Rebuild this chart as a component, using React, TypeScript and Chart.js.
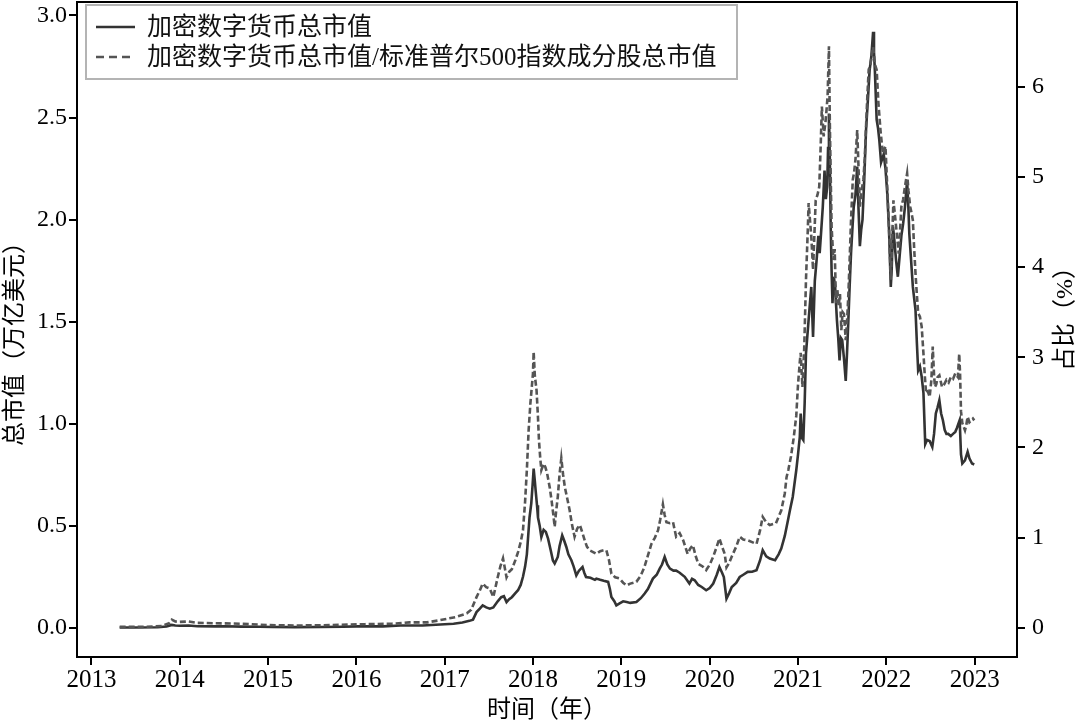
import React, { useEffect, useRef } from "react";
import { Chart, registerables } from "chart.js";

Chart.register(...registerables);

// ---- data (fractional years) ----
const capYears = [
  2013.32, 2013.5, 2013.75, 2013.85, 2013.91, 2013.95, 2014.0, 2014.1, 2014.2, 2014.4, 2014.5, 2014.7, 2014.9,
  2015.05, 2015.3, 2015.6, 2015.85, 2016.0, 2016.3, 2016.5, 2016.75, 2016.95, 2017.1, 2017.2, 2017.28,
  2017.32, 2017.36, 2017.4, 2017.43, 2017.47, 2017.51, 2017.55, 2017.6, 2017.64, 2017.67, 2017.7, 2017.73,
  2017.76, 2017.8, 2017.83, 2017.86, 2017.886, 2017.91, 2017.93, 2017.96, 2017.98, 2017.995, 2018.007,
  2018.02, 2018.03, 2018.045, 2018.056, 2018.075, 2018.094, 2018.12, 2018.145, 2018.17, 2018.2, 2018.225,
  2018.245, 2018.28, 2018.3, 2018.33, 2018.35, 2018.377, 2018.4, 2018.434, 2018.46, 2018.49, 2018.52,
  2018.56, 2018.58, 2018.6, 2018.65, 2018.7, 2018.717, 2018.76, 2018.8, 2018.85, 2018.87, 2018.887, 2018.92,
  2018.943, 2018.98, 2019.02, 2019.06, 2019.1, 2019.17, 2019.22, 2019.264, 2019.3, 2019.357, 2019.4,
  2019.434, 2019.46, 2019.49, 2019.52, 2019.55, 2019.59, 2019.62, 2019.66, 2019.717, 2019.77, 2019.8,
  2019.83, 2019.87, 2019.91, 2019.96, 2020.0, 2020.04, 2020.08, 2020.11, 2020.14, 2020.16, 2020.19, 2020.22,
  2020.25, 2020.3, 2020.34, 2020.38, 2020.43, 2020.48, 2020.53, 2020.57, 2020.6, 2020.64, 2020.68, 2020.74,
  2020.78, 2020.81, 2020.85, 2020.886, 2020.91, 2020.94, 2020.98, 2021.0, 2021.02, 2021.03, 2021.045,
  2021.06, 2021.075, 2021.09, 2021.12, 2021.15, 2021.17, 2021.19, 2021.21, 2021.23, 2021.245, 2021.26,
  2021.28, 2021.3, 2021.315, 2021.33, 2021.34, 2021.35, 2021.36, 2021.37, 2021.38, 2021.39, 2021.405,
  2021.42, 2021.44, 2021.455, 2021.47, 2021.485, 2021.5, 2021.52, 2021.54, 2021.555, 2021.57, 2021.585,
  2021.6, 2021.615, 2021.63, 2021.65, 2021.67, 2021.685, 2021.7, 2021.715, 2021.73, 2021.75, 2021.77,
  2021.79, 2021.81, 2021.83, 2021.85, 2021.86, 2021.87, 2021.89, 2021.905, 2021.92, 2021.94, 2021.97,
  2021.99, 2022.01, 2022.03, 2022.05, 2022.06, 2022.075, 2022.09, 2022.11, 2022.13, 2022.15, 2022.17,
  2022.19, 2022.21, 2022.235, 2022.25, 2022.26, 2022.28, 2022.3, 2022.33, 2022.345, 2022.36, 2022.38,
  2022.4, 2022.42, 2022.44, 2022.46, 2022.49, 2022.52, 2022.54, 2022.56, 2022.58, 2022.6, 2022.62, 2022.64,
  2022.66, 2022.68, 2022.7, 2022.73, 2022.755, 2022.78, 2022.8, 2022.83, 2022.845, 2022.86, 2022.89,
  2022.92, 2022.94, 2022.97, 2022.995,
];
const capValues = [
  0.0015, 0.0012, 0.0025, 0.006, 0.014, 0.011, 0.01, 0.011, 0.008, 0.007, 0.008, 0.006, 0.005,
  0.004, 0.0035, 0.004, 0.005, 0.007, 0.007, 0.011, 0.011, 0.016, 0.02, 0.026, 0.034,
  0.04, 0.077, 0.095, 0.11, 0.1, 0.094, 0.1, 0.13, 0.15, 0.155, 0.126, 0.14,
  0.15, 0.17, 0.184, 0.21, 0.25, 0.3, 0.36, 0.54, 0.61, 0.7, 0.78,
  0.72, 0.67, 0.6, 0.54, 0.5, 0.445, 0.48, 0.47, 0.437, 0.38, 0.33,
  0.315, 0.347, 0.4, 0.453, 0.43, 0.396, 0.36, 0.331, 0.3, 0.257, 0.28,
  0.298, 0.27, 0.249, 0.245, 0.235, 0.241, 0.235, 0.23, 0.225, 0.19, 0.151, 0.13,
  0.11, 0.12, 0.13, 0.126, 0.122, 0.126, 0.145, 0.168, 0.19, 0.241, 0.26,
  0.29, 0.31, 0.347, 0.31, 0.29, 0.28, 0.28, 0.27, 0.25, 0.217, 0.24,
  0.233, 0.21, 0.2, 0.184, 0.195, 0.217, 0.26, 0.298, 0.27, 0.249, 0.143, 0.17,
  0.2, 0.22, 0.249, 0.26, 0.274, 0.275, 0.282, 0.33, 0.38, 0.35, 0.339, 0.331,
  0.36, 0.388, 0.45, 0.527, 0.58, 0.641, 0.772, 0.85, 0.935, 1.05, 0.93,
  0.92, 1.1, 1.345, 1.51, 1.67, 1.425, 1.7, 1.8, 1.92, 1.835, 1.93,
  2.06, 2.24, 2.1, 2.16, 2.35, 2.52, 2.3, 1.965, 1.75, 1.59, 1.72,
  1.67, 1.51, 1.42, 1.31, 1.42, 1.41, 1.32, 1.21, 1.35, 1.51, 1.68,
  1.835, 1.95, 2.06, 2.12, 2.26, 2.05, 1.87, 1.95, 2.0, 2.2, 2.44,
  2.58, 2.73, 2.8, 2.92, 2.82, 2.73, 2.49, 2.45, 2.39, 2.28, 2.32,
  2.25, 2.13, 1.95, 1.67, 1.75, 1.965, 1.9, 1.8, 1.72, 1.82, 1.92,
  1.98, 2.06, 2.19, 2.05, 1.93, 1.8, 1.67, 1.556, 1.4, 1.26, 1.28,
  1.23, 1.15, 0.9, 0.92, 0.915, 0.886, 0.95, 1.05, 1.08, 1.115, 1.05, 1.017,
  0.97, 0.95, 0.95, 0.94, 0.95, 0.96, 0.98, 1.017, 0.85, 0.805, 0.82,
  0.862, 0.83, 0.805, 0.8,
];

const ratioYears = [
  2013.32, 2013.6, 2013.8, 2013.88, 2013.91, 2013.95, 2014.0, 2014.1, 2014.2, 2014.4, 2014.6, 2014.8,
  2015.0, 2015.3, 2015.6, 2015.9, 2016.1, 2016.4, 2016.6, 2016.8, 2016.95, 2017.13, 2017.25, 2017.3,
  2017.36, 2017.4, 2017.43, 2017.47, 2017.51, 2017.55, 2017.6, 2017.63, 2017.66, 2017.7, 2017.73, 2017.76,
  2017.8, 2017.83, 2017.86, 2017.886, 2017.91, 2017.93, 2017.95, 2017.97, 2017.999, 2018.007, 2018.02,
  2018.04, 2018.055, 2018.067, 2018.08, 2018.094, 2018.12, 2018.14, 2018.16, 2018.19, 2018.21, 2018.23,
  2018.245, 2018.26, 2018.28, 2018.3, 2018.32, 2018.34, 2018.36, 2018.39, 2018.415, 2018.44, 2018.47,
  2018.5, 2018.53, 2018.56, 2018.585, 2018.61, 2018.64, 2018.68, 2018.717, 2018.76, 2018.8, 2018.83,
  2018.86, 2018.887, 2018.93, 2018.98, 2019.02, 2019.06, 2019.1, 2019.17, 2019.22, 2019.26, 2019.3,
  2019.34, 2019.38, 2019.415, 2019.44, 2019.47, 2019.49, 2019.51, 2019.55, 2019.585, 2019.62, 2019.66,
  2019.7, 2019.75, 2019.78, 2019.81, 2019.84, 2019.87, 2019.92, 2019.96, 2020.0, 2020.04, 2020.08,
  2020.11, 2020.14, 2020.17, 2020.19, 2020.22, 2020.25, 2020.3, 2020.34, 2020.38, 2020.43, 2020.48,
  2020.53, 2020.57, 2020.6, 2020.64, 2020.68, 2020.75, 2020.81, 2020.85, 2020.87, 2020.89, 2020.92,
  2020.95, 2020.98, 2021.0, 2021.02, 2021.03, 2021.05, 2021.07, 2021.09, 2021.11, 2021.12, 2021.15,
  2021.17, 2021.2, 2021.22, 2021.24, 2021.255, 2021.27, 2021.29, 2021.31, 2021.32, 2021.335, 2021.35,
  2021.36, 2021.37, 2021.38, 2021.4, 2021.415, 2021.43, 2021.445, 2021.46, 2021.475, 2021.49, 2021.505,
  2021.52, 2021.54, 2021.555, 2021.57, 2021.585, 2021.6, 2021.62, 2021.635, 2021.65, 2021.67, 2021.685,
  2021.7, 2021.72, 2021.74, 2021.755, 2021.77, 2021.785, 2021.8, 2021.82, 2021.835, 2021.85, 2021.87,
  2021.89, 2021.91, 2021.935, 2021.96, 2021.99, 2022.005, 2022.02, 2022.035, 2022.05, 2022.065, 2022.08,
  2022.095, 2022.11, 2022.125, 2022.14, 2022.155, 2022.17, 2022.19, 2022.21, 2022.235, 2022.25, 2022.27,
  2022.285, 2022.3, 2022.315, 2022.33, 2022.345, 2022.36, 2022.38, 2022.4, 2022.42, 2022.435, 2022.45,
  2022.47, 2022.49, 2022.51, 2022.525, 2022.54, 2022.55, 2022.565, 2022.58, 2022.6, 2022.63, 2022.655,
  2022.68, 2022.705, 2022.73, 2022.755, 2022.78, 2022.81, 2022.825, 2022.835, 2022.845, 2022.86, 2022.89,
  2022.905, 2022.92, 2022.94, 2022.96, 2022.98, 2022.995,
];
const ratioValues = [
  0.01, 0.01, 0.02, 0.05, 0.09, 0.07, 0.065, 0.07, 0.055, 0.05, 0.048, 0.04,
  0.03, 0.025, 0.028, 0.035, 0.04, 0.045, 0.06, 0.06, 0.085, 0.12, 0.16, 0.2,
  0.34, 0.42, 0.49, 0.45, 0.435, 0.34, 0.56, 0.68, 0.77, 0.56, 0.62, 0.65,
  0.75, 0.84, 0.95, 1.08, 1.4, 1.75, 2.19, 2.49, 2.82, 3.06, 2.8,
  2.63, 2.35, 2.08, 1.9, 1.75, 1.82, 1.78, 1.71, 1.55, 1.41, 1.25,
  1.12, 1.28, 1.45, 1.7, 1.88, 1.7, 1.56, 1.42, 1.3, 1.15, 1.01,
  1.1, 1.14, 1.05, 0.97, 0.9, 0.86, 0.84, 0.82, 0.85, 0.86, 0.86,
  0.75, 0.6, 0.56, 0.546, 0.5, 0.47, 0.49, 0.51, 0.58, 0.67, 0.8,
  0.93, 1.0, 1.08, 1.2, 1.37, 1.25, 1.17, 1.16, 1.17, 1.01, 1.05,
  0.97, 0.82, 0.88, 0.915, 0.8, 0.71, 0.68, 0.64, 0.7, 0.79, 0.9,
  0.99, 0.9, 0.82, 0.67, 0.72, 0.79, 0.9, 1.01, 0.98, 0.97, 0.95,
  0.93, 1.08, 1.23, 1.17, 1.14, 1.16, 1.3, 1.49, 1.67, 1.75, 1.9,
  2.1, 2.35, 2.7, 2.95, 3.05, 2.67, 3.1, 3.86, 4.4, 4.71, 4.34,
  3.97, 4.74, 4.8, 4.89, 5.3, 5.78, 5.45, 5.6, 5.71, 5.9, 6.45,
  5.6, 5.0, 4.45, 4.08, 4.2, 3.6, 3.75, 3.57, 3.7, 3.3, 3.5,
  3.48, 3.19, 3.4, 3.7, 4.1, 4.52, 4.97, 5.05, 5.19, 5.52, 5.1,
  4.67, 4.85, 4.97, 5.2, 5.56, 5.9, 6.19, 6.25, 6.35, 6.44, 6.25,
  6.19, 5.82, 5.5, 5.26, 5.34, 5.0, 4.67, 4.3, 3.86, 4.3, 4.74,
  4.6, 4.45, 4.3, 4.15, 4.4, 4.67, 4.75, 4.89, 5.04, 4.85, 4.67,
  4.6, 4.52, 4.2, 3.93, 3.7, 3.49, 3.45, 3.34, 3.04, 2.8, 2.6,
  2.62, 2.56, 2.75, 3.12, 2.8, 2.67, 2.7, 2.78, 2.8, 2.67, 2.7,
  2.75, 2.72, 2.78, 2.76, 2.82, 2.78, 3.04, 2.8, 2.4, 2.27, 2.19,
  2.25, 2.34, 2.28, 2.3, 2.32, 2.3,
];

const yearTicks = [2013, 2014, 2015, 2016, 2017, 2018, 2019, 2020, 2021, 2022, 2023];
const capTicks = [0, 0.5, 1.0, 1.5, 2.0, 2.5, 3.0];
const ratioTicks = [0, 1, 2, 3, 4, 5, 6];

const seriesLabels = ["加密数字货币总市值", "加密数字货币总市值/标准普尔500指数成分股总市值"];
const xTitle = "时间（年）";
const leftTitle = "总市值（万亿美元）";
const rightTitle = "占比（%）";

const FONT_FAMILY = '"Liberation Serif", "Noto Sans CJK SC", serif';
const SOLID_COLOR = "#333333";
const DASH_COLOR = "#555555";

const decorPlugin = {
  id: "decor",
  afterDraw(chart: any) {
    const { ctx, chartArea } = chart;
    const { left, right, top } = chartArea;
    ctx.save();
    // top spine
    ctx.strokeStyle = "#000";
    ctx.lineWidth = 2;
    ctx.beginPath();
    ctx.moveTo(left - 1, top);
    ctx.lineTo(right + 1, top);
    ctx.stroke();

    // axis titles
    ctx.fillStyle = "#000";
    ctx.font = `24px ${FONT_FAMILY}`;
    ctx.textAlign = "center";
    ctx.textBaseline = "middle";
    ctx.fillText(xTitle, (left + right) / 2, 711);

    ctx.save();
    ctx.translate(16, 338);
    ctx.rotate(-Math.PI / 2);
    ctx.fillText(leftTitle, 0, 0);
    ctx.restore();

    ctx.save();
    ctx.translate(1066, 313);
    ctx.rotate(-Math.PI / 2);
    ctx.fillText(rightTitle, 0, 0);
    ctx.restore();

    // legend
    const bx = left + 9;
    const by = top + 3;
    const bw = 651;
    const bh = 74;
    ctx.fillStyle = "#fff";
    ctx.fillRect(bx, by, bw, bh);
    ctx.strokeStyle = "#b4b4b4";
    ctx.lineWidth = 2;
    ctx.strokeRect(bx, by, bw, bh);

    const rows = [top + 25, top + 55];
    const styles = [
      { color: SOLID_COLOR, dash: [] as number[] },
      { color: DASH_COLOR, dash: [8, 5] },
    ];
    rows.forEach((ry, i) => {
      ctx.strokeStyle = styles[i].color;
      ctx.lineWidth = 2.4;
      ctx.setLineDash(styles[i].dash);
      ctx.beginPath();
      ctx.moveTo(bx + 10, ry);
      ctx.lineTo(bx + 49, ry);
      ctx.stroke();
      ctx.setLineDash([]);
      ctx.fillStyle = "#111";
      ctx.font = `25px ${FONT_FAMILY}`;
      ctx.textAlign = "left";
      ctx.textBaseline = "middle";
      ctx.fillText(seriesLabels[i], bx + 61, ry + 1);
    });
    ctx.restore();
  },
};

export default function App() {
  const canvasRef = useRef<HTMLCanvasElement | null>(null);

  useEffect(() => {
    document.body.style.margin = "0";
    const canvas = canvasRef.current;
    if (!canvas) return;

    const capData = capYears.map((x, i) => ({ x, y: capValues[i] }));
    const ratioData = ratioYears.map((x, i) => ({ x, y: ratioValues[i] }));

    const tickFont = { family: FONT_FAMILY, size: 24 };
    const tickGrid = {
      display: true,
      drawOnChartArea: false,
      drawTicks: true,
      tickLength: 8,
      color: "#000",
      lineWidth: 2,
    };

    const chart = new Chart(canvas, {
      type: "line",
      data: {
        datasets: [
          {
            label: seriesLabels[1],
            data: ratioData,
            yAxisID: "y1",
            borderColor: DASH_COLOR,
            borderWidth: 2.6,
            borderDash: [6, 3],
            pointRadius: 0,
            fill: false,
            tension: 0,
          },
          {
            label: seriesLabels[0],
            data: capData,
            yAxisID: "y",
            borderColor: SOLID_COLOR,
            borderWidth: 2.6,
            pointRadius: 0,
            fill: false,
            tension: 0,
          },
        ],
      },
      options: {
        animation: false,
        responsive: false,
        devicePixelRatio: 1,
        layout: { padding: { top: 2, left: 0, right: 0, bottom: 0 } },
        plugins: {
          legend: { display: false },
          tooltip: { enabled: false },
        },
        scales: {
          x: {
            type: "linear",
            min: 2012.837,
            max: 2023.479,
            afterBuildTicks: (s: any) => {
              s.ticks = yearTicks.map((v) => ({ value: v }));
            },
            afterFit: (s: any) => {
              s.height = 68;
              s.paddingLeft = 0;
              s.paddingRight = 0;
            },
            ticks: {
              callback: (v: any) => String(v),
              font: { family: FONT_FAMILY, size: 25 },
              color: "#000",
              padding: 0,
              maxRotation: 0,
              autoSkip: false,
            },
            grid: tickGrid,
            border: { display: true, color: "#000", width: 2 },
          },
          y: {
            type: "linear",
            position: "left",
            min: -0.143,
            max: 3.066,
            afterBuildTicks: (s: any) => {
              s.ticks = capTicks.map((v) => ({ value: v }));
            },
            afterFit: (s: any) => {
              s.width = 77;
              s.paddingTop = 0;
              s.paddingBottom = 0;
            },
            ticks: {
              callback: (v: any) => Number(v).toFixed(1),
              font: tickFont,
              color: "#000",
              padding: 2,
            },
            grid: tickGrid,
            border: { display: true, color: "#000", width: 2 },
          },
          y1: {
            type: "linear",
            position: "right",
            min: -0.324,
            max: 6.94,
            afterBuildTicks: (s: any) => {
              s.ticks = ratioTicks.map((v) => ({ value: v }));
            },
            afterFit: (s: any) => {
              s.width = 64;
              s.paddingTop = 0;
              s.paddingBottom = 0;
            },
            ticks: {
              callback: (v: any) => String(v),
              font: tickFont,
              color: "#000",
              padding: 7,
            },
            grid: tickGrid,
            border: { display: true, color: "#000", width: 2 },
          },
        },
      },
      plugins: [decorPlugin],
    });

    return () => {
      chart.destroy();
    };
  }, []);

  return (
    <div style={{ width: 1081, height: 725, background: "#fff" }}>
      <canvas ref={canvasRef} width={1081} height={725} style={{ display: "block" }} />
    </div>
  );
}
